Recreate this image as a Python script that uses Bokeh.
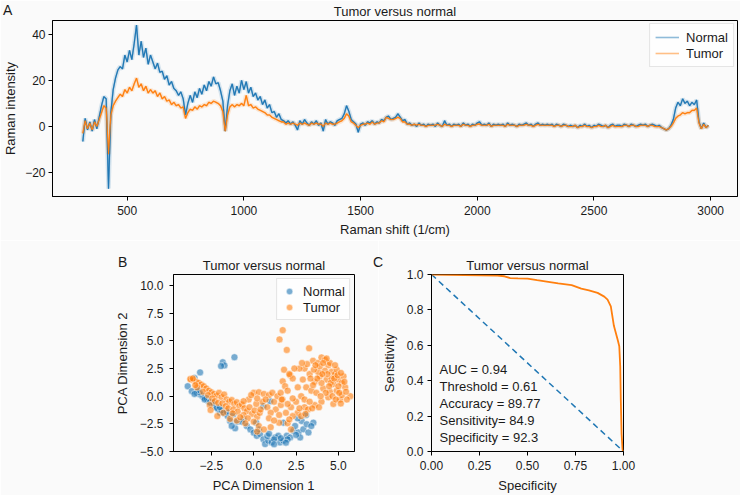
import numpy as np
from bokeh.plotting import figure
from bokeh.layouts import column, row
from bokeh.models import (Label, Legend, LegendItem, FixedTicker, Range1d, Div,
                          CustomJSTickFormatter)
from bokeh.embed import file_html
from bokeh.resources import INLINE

# ---------------- data ----------------
raman_shift = np.arange(310, 3000, 10)  # 310 ... 2990 (1/cm)

normal_mean = [
    -6.5, 3.5, -1.5, 2.0, -2.0, 3.0, -1.0, 4.0, 9.0, 13.0,
    12.0, -27.0, 6.0, 16.0, 21.0, 24.5, 26.0, 25.0, 31.0, 28.0,
    33.0, 29.0, 36.0, 44.0, 31.0, 37.0, 30.0, 34.0, 27.0, 31.0,
    28.0, 25.0, 27.5, 23.5, 24.0, 20.5, 22.0, 18.0, 19.5, 16.5,
    15.5, 13.5, 15.0, 12.0, 5.0, 10.0, 13.5, 10.5, 15.0, 12.5,
    16.5, 14.0, 18.0, 15.5, 19.5, 17.5, 21.5, 18.5, 19.0, 15.5,
    11.0, -2.0, 9.0, 15.5, 18.5, 13.5, 17.5, 14.5, 20.0, 16.0,
    19.5, 14.5, 17.0, 13.0, 14.5, 11.5, 13.0, 9.5, 11.5, 8.0,
    9.5, 6.0, 6.5, 4.0, 5.5, 3.0, 2.5, 1.5, 2.5, 1.0,
    2.0, 0.5, -1.5, 2.5, 1.0, 3.0, 1.5, 0.5, 2.0, 1.0,
    2.5, 0.5, 1.5, -2.0, 3.0, 1.0, 2.0, 1.5, 0.5, 2.5,
    3.0, 3.5, 5.5, 9.0, 6.5, 3.0, 2.0, 1.0, -2.5, 1.0,
    1.5, 0.5, 2.0, 1.5, 2.5, 1.0, 2.0, 1.5, 3.0, 2.5,
    4.0, 4.5, 3.0, 3.5, 4.0, 5.5, 4.0, 2.5, 3.0, 1.0,
    1.5, 0.5, 1.0, 0.0, 1.5, 0.5, 1.0, 0.0, 1.0, 0.5,
    1.0, 0.0, 1.5, 0.5, 0.0, 2.5, 0.5, 1.0, 0.0, 1.0,
    0.5, 1.0, 0.0, 1.5, 0.5, 1.0, 0.0, 1.0, 0.5, 1.5,
    2.0, 0.5, 1.0, 0.5, 1.5, 0.0, 1.0, 0.5, 1.0, 0.5,
    1.0, 0.0, 1.5, 0.5, 1.0, 0.5, 0.0, 1.0, 0.5, 1.0,
    1.5, 0.5, 1.0, 0.0, 1.0, 1.5, 0.5, 1.0, 0.5, 1.0,
    0.5, 1.0, 0.0, 1.0, 0.5, 0.0, 1.0, 0.5, 0.0, 0.5,
    0.0, 0.5, -0.5, 0.5, 0.0, 1.0, 0.0, 0.5, -0.5, 0.5,
    0.0, 1.0, 0.5, 0.0, 0.5, -0.5, 0.5, 1.0, 0.0, 0.5,
    0.5, 0.0, 1.0, 0.5, 0.0, 1.0, 0.5, 0.0, 0.5, 1.0,
    0.5, 1.0, 0.0, 0.5, 1.0, 0.5, 0.0, 0.5, -0.5, -1.0,
    -1.5, -1.0, 0.5, 3.0, 8.0, 10.5, 9.0, 12.0, 10.0, 11.0,
    9.0, 10.5, 9.5, 11.5, 2.0, -1.0, 1.5, -0.5, 0.5,
]

tumor_mean = [
    -3.0, 2.5, -1.0, 1.5, -1.5, 2.0, 0.0, 3.0, 6.0, 9.0,
    8.0, -12.0, 5.0, 9.0, 11.0, 12.5, 14.0, 13.0, 16.0, 14.5,
    17.0, 15.5, 18.5, 21.0, 17.0, 18.5, 15.5, 17.5, 14.5, 16.0,
    14.5, 15.5, 13.0, 14.5, 12.0, 13.0, 11.0, 11.5, 9.5, 10.5,
    9.0, 9.5, 8.0, 8.5, 3.5, 6.0, 7.5, 7.0, 8.5, 7.5,
    9.0, 8.5, 9.5, 9.0, 10.5, 10.0, 11.0, 10.5, 10.0, 9.0,
    6.5, -2.0, 5.0, 8.5, 9.5, 8.5, 9.5, 9.0, 10.0, 9.0,
    13.5, 9.0, 9.5, 8.0, 8.5, 7.5, 7.0, 6.5, 6.0, 5.0,
    5.0, 4.0, 3.5, 3.0, 2.5, 2.0, 2.0, 1.0, 1.5, 1.0,
    1.5, 1.0, 0.5, 1.5, 1.0, 1.5, 1.0, 0.5, 1.5, 1.0,
    1.5, 1.0, 1.0, 0.0, 1.5, 1.0, 1.5, 1.0, 1.0, 1.5,
    2.0, 2.5, 3.5, 5.5, 4.5, 2.0, 1.5, 0.5, -0.5, 0.5,
    1.0, 1.0, 1.5, 1.0, 2.0, 1.0, 1.5, 1.5, 2.5, 2.0,
    4.0, 3.5, 3.0, 3.0, 3.5, 4.0, 3.5, 2.0, 2.0, 1.0,
    1.0, 0.5, 1.0, 0.5, 1.0, 0.5, 0.5, 0.0, 0.5, 0.5,
    0.5, 0.5, 1.0, 0.5, 0.0, 1.0, 0.5, 0.5, 0.0, 0.5,
    0.5, 0.5, 0.0, 1.0, 0.5, 0.5, 0.0, 0.5, 0.5, 1.0,
    1.0, 0.5, 0.5, 0.5, 1.0, 0.0, 0.5, 0.5, 0.5, 0.5,
    0.5, 0.0, 1.0, 0.5, 0.5, 0.5, 0.0, 0.5, 0.5, 0.5,
    1.0, 0.5, 0.5, 0.0, 0.5, 1.0, 0.5, 0.5, 0.5, 0.5,
    0.5, 0.5, 0.0, 0.5, 0.5, 0.0, 0.5, 0.5, 0.0, 0.0,
    0.0, 0.5, -0.5, 0.0, 0.0, 0.5, 0.0, 0.0, -0.5, 0.0,
    0.0, 0.5, 0.0, 0.0, 0.5, -0.5, 0.0, 0.5, 0.0, 0.0,
    0.0, 0.0, 0.5, 0.5, 0.0, 0.5, 0.5, 0.0, 0.0, 0.5,
    0.5, 0.5, 0.0, 0.5, 0.5, 0.0, 0.0, 0.0, -0.5, -1.0,
    -1.5, -1.0, 0.0, 1.5, 3.5, 4.5, 5.0, 6.0, 5.5, 6.0,
    6.0, 7.0, 7.0, 8.0, 1.5, -1.0, 1.0, -0.5, 0.5,
]
assert len(normal_mean) == len(raman_shift) == len(tumor_mean)

pca_normal = [
    (-1.83, 3.07), (-1.73, 2.78), (-1.93, 2.72), (-1.14, 3.52), (-3.17, 2.15), (-3.5, 1.64),
    (-3.9, 0.9), (-3.66, 0.45), (-3.37, 0.3), (-3.17, 0.15), (-3.03, 0.0), (-2.93, -0.15),
    (-2.78, -0.2), (-2.68, -0.45), (-2.48, -0.75), (-2.28, -0.9), (-2.09, -1.2), (-1.99, -1.5),
    (-1.75, -1.55), (-1.54, -1.8), (-1.4, -2.24), (-1.1, -2.9), (-0.99, -2.3), (-0.41, -2.7),
    (-0.2, -3.0), (0.0, -3.3), (0.18, -3.58), (0.37, -3.43), (0.57, -3.9), (0.67, -4.33),
    (0.86, -4.03), (1.06, -4.18), (1.26, -3.73), (1.45, -3.58), (1.55, -4.18), (1.75, -4.03),
    (1.95, -3.58), (2.15, -3.73), (2.34, -3.13), (2.44, -2.69), (2.64, -3.28), (2.74, -3.73),
    (2.93, -2.99), (2.83, -2.24), (3.13, -2.54), (3.23, -3.28), (3.52, -2.39), (3.09, -1.7),
    (0.96, -0.45), (1.75, -2.39), (0.57, -0.9), (0.14, -2.39), (-0.61, -2.09), (-1.2, -1.64),
    (-1.3, -2.69), (-3.2, 0.35), (-2.9, -0.3), (-2.6, -0.55), (-3.3, 0.55), (-2.2, -1.05),
    (-1.9, -1.3), (-1.6, -1.4), (-0.7, -2.3), (0.3, -3.0), (0.8, -3.6), (1.2, -3.9),
    (1.6, -3.8), (2.0, -3.9), (2.5, -3.5), (1.9, -4.2), (1.2, -4.35), (0.9, -3.4),
    (3.4, -2.7), (2.6, -2.0), (-2.4, -0.6), (-2.0, -1.0), (-3.5, 0.2),
]
pca_tumor = [
    (-3.7, 1.5), (-3.55, 1.45), (-3.4, 1.3), (-3.25, 1.2), (-3.1, 1.05), (-2.95, 0.9),
    (-2.8, 0.7), (-2.65, 0.5), (-2.5, 0.35), (-2.35, 0.2), (-2.2, 0.05), (-2.05, 0.3),
    (-1.9, -0.1), (-1.75, 0.15), (-1.6, -0.3), (-1.45, -0.5), (-1.3, -0.35), (-1.15, -0.7),
    (-1.0, -0.55), (-0.85, -0.9), (-0.7, -0.75), (-0.55, -1.1), (-0.4, -1.35), (-0.25, -1.0),
    (-0.1, -1.6), (0.05, -1.3), (0.2, -1.85), (0.35, -1.5), (-3.35, 0.8), (-3.0, 0.4),
    (-2.7, 0.1), (-2.45, -0.2), (-2.3, -0.45), (-2.6, -0.8), (-2.1, -0.6), (-1.85, -0.65),
    (-1.65, -0.9), (-1.5, -1.1), (-1.2, -1.2), (-0.95, -1.4), (-0.6, -1.7), (-0.35, -2.0),
    (-2.55, -1.25), (-2.15, -1.8), (-1.8, -1.5), (-1.4, -2.05), (-1.0, -2.2), (-0.5, -2.45),
    (0.0, -2.3), (0.3, -2.7), (0.6, -3.0), (0.2, -3.2), (1.0, -2.8), (1.5, -2.4),
    (2.0, -2.45), (2.2, -3.0), (-0.8, -1.9), (-1.25, -1.55), (-3.45, 1.0), (-3.75, 1.55),
    (-3.6, 1.6),
    (0.0, 0.3), (0.3, 0.35), (0.6, 0.2), (0.9, 0.1), (1.2, -0.5), (0.5, -0.5),
    (0.8, -1.0), (1.3, -1.2), (1.6, -0.8), (1.9, -1.5), (2.2, -1.0), (2.5, -0.5),
    (2.8, 0.0), (2.6, -1.5), (3.0, -1.0), (1.0, -1.5), (0.4, -1.2), (-0.3, -0.3),
    (-0.6, -0.45), (0.15, -0.7), (0.7, -0.3), (1.1, 0.3), (1.4, 0.0), (1.7, -0.3),
    (2.0, -0.7), (2.3, -1.8), (2.7, -1.1), (1.5, -1.7), (0.9, -2.0), (0.2, -0.2),
    (-0.15, 0.1), (2.1, -2.1), (1.2, -2.2),
    (1.71, 5.97), (1.52, 5.13), (1.95, 4.18), (1.79, 2.39), (1.71, 1.34), (1.85, 0.9),
    (1.59, 0.3), (2.15, 1.9), (1.65, -0.3),
    (3.27, 4.33), (3.0, 2.5), (3.3, 2.0), (3.5, 3.2), (3.8, 3.0), (4.0, 3.5),
    (4.2, 3.3), (4.4, 2.8), (4.6, 2.2), (4.8, 2.0), (5.0, 1.5), (5.2, 1.2),
    (5.4, 0.8), (5.7, 0.0), (5.5, -0.3), (2.7, 2.5), (2.9, 1.5), (3.1, 0.8),
    (3.4, 0.5), (3.6, 1.3), (3.9, 1.8), (4.1, 0.7), (4.3, 1.5), (4.5, 0.4),
    (4.7, 1.1), (4.9, 0.5), (5.1, -0.3), (4.0, -0.5), (3.6, -0.8), (3.2, -1.2),
    (2.8, -1.8), (4.7, -0.7), (5.3, 1.8), (4.9, 2.4), (4.5, 3.0), (3.8, 2.2),
    (3.5, 1.0), (3.0, -0.3), (2.6, 0.8), (2.3, 1.6), (2.1, 2.0), (2.4, 2.5),
    (2.0, 0.5), (2.3, -0.2), (4.2, 2.3), (4.4, -0.1), (5.0, 0.9), (5.2, 0.1),
    (4.6, 1.6), (3.7, 0.3), (3.3, -0.5), (4.0, 1.2), (4.8, 2.8), (3.9, 2.7),
    (4.3, 3.4), (4.1, 3.0), (4.35, 2.0), (4.55, 1.2), (4.75, 1.6), (4.95, 1.9),
    (5.15, 2.1), (5.35, 1.3), (5.45, 0.4), (4.25, 0.3), (3.95, 0.0), (3.75, 1.6),
    (3.55, 2.4), (3.35, 1.6), (3.15, 2.9), (2.85, 3.0), (3.65, 2.8), (4.05, 2.0),
    (4.45, 0.9), (4.65, 0.0), (4.85, -0.3), (5.05, 0.3), (3.85, -1.0), (3.45, -1.1),
    (3.05, -1.6), (5.14, -0.66),
]
normal_pc1 = [p[0] for p in pca_normal]
normal_pc2 = [p[1] for p in pca_normal]
tumor_pc1 = [p[0] for p in pca_tumor]
tumor_pc2 = [p[1] for p in pca_tumor]

roc_specificity = [0.0, 0.344, 0.38, 0.41, 0.45, 0.50, 0.55, 0.60, 0.66, 0.73, 0.78, 0.82,
                   0.865, 0.90, 0.917, 0.934, 0.95, 0.97, 0.978, 0.983, 0.986, 0.99, 0.995, 1.0]
roc_sensitivity = [1.0, 0.994, 0.99, 0.98, 0.978, 0.977, 0.968, 0.96, 0.95, 0.94, 0.92, 0.91,
                   0.896, 0.875, 0.858, 0.82, 0.71, 0.63, 0.595, 0.48, 0.29, 0.10, 0.01, 0.0]
chance_x = [0.0, 1.0]
chance_y = [1.0, 0.0]
roc_stats = ["AUC = 0.94", "Threshold = 0.61", "Accuracy = 89.77",
             "Sensitivity= 84.9", "Specificity = 92.3"]

a_xticks = [500, 1000, 1500, 2000, 2500, 3000]
a_xlabels = ["500", "1000", "1500", "2000", "2500", "3000"]
a_yticks = [-20, 0, 20, 40]
a_ylabels = ["\u221220", "0", "20", "40"]
b_xticks = [-2.5, 0.0, 2.5, 5.0]
b_xlabels = ["\u22122.5", "0.0", "2.5", "5.0"]
b_yticks = [-5.0, -2.5, 0.0, 2.5, 5.0, 7.5, 10.0]
b_ylabels = ["\u22125.0", "\u22122.5", "0.0", "2.5", "5.0", "7.5", "10.0"]
c_xticks = [0.0, 0.25, 0.5, 0.75, 1.0]
c_xlabels = ["0.00", "0.25", "0.50", "0.75", "1.00"]
c_yticks = [0.0, 0.2, 0.4, 0.6, 0.8, 1.0]
c_ylabels = ["0.0", "0.2", "0.4", "0.6", "0.8", "1.0"]

# ---------------- style ----------------
BLUE = "#1f77b4"
ORANGE = "#ff7f0e"
BG = "#fafafa"
TXT = "#1a1a1a"
FONT = "Liberation Sans"
TITLE = "Tumor versus normal"


def tick_fmt(tv, lv):
    return CustomJSTickFormatter(
        args=dict(tv=tv, lv=lv),
        code="for (let k = 0; k < tv.length; k++) {"
             "  if (Math.abs(tv[k] - tick) < 1e-9) { return lv[k]; } }"
             "return '';")


def style(p, xt, xl, yt, yl, xlabel, ylabel, xls, xas, yls, yas):
    p.xgrid.visible = False
    p.ygrid.visible = False
    p.outline_line_color = "black"
    p.outline_line_width = 1
    p.outline_line_alpha = 1
    p.title.text_font = FONT
    p.title.text_font_size = "13px"
    p.title.text_font_style = "normal"
    p.title.text_color = TXT
    p.title.align = "center"
    p.title.standoff = 3
    p.xaxis.ticker = FixedTicker(ticks=xt)
    p.xaxis.formatter = tick_fmt(xt, xl)
    p.yaxis.ticker = FixedTicker(ticks=yt)
    p.yaxis.formatter = tick_fmt(yt, yl)
    p.xaxis.axis_label = xlabel
    p.yaxis.axis_label = ylabel
    for ax in (p.xaxis[0], p.yaxis[0]):
        ax.axis_line_color = "black"
        ax.major_tick_line_color = "black"
        ax.major_tick_out = 4
        ax.major_tick_in = 0
        ax.minor_tick_line_color = None
        ax.major_label_text_font = FONT
        ax.major_label_text_font_size = "12px"
        ax.major_label_text_color = TXT
        ax.axis_label_text_font = FONT
        ax.axis_label_text_font_size = "13px"
        ax.axis_label_text_font_style = "normal"
        ax.axis_label_text_color = TXT
    p.xaxis.major_label_standoff = xls
    p.xaxis.axis_label_standoff = xas
    p.yaxis.major_label_standoff = yls
    p.yaxis.axis_label_standoff = yas


def make_fig(w, h, xr, yr, left, right, top, bottom):
    p = figure(width=w, height=h, x_range=Range1d(*xr), y_range=Range1d(*yr),
               title=TITLE,
               min_border_left=left, min_border_right=right, min_border_top=top,
               min_border_bottom=bottom, output_backend="svg", toolbar_location=None,
               background_fill_color=BG, border_fill_color=BG)
    return p


def letter(t, left, top):
    return Div(text=t, styles={"position": "absolute", "left": f"{left}px",
                               "top": f"{top}px", "font-family": FONT,
                               "font-size": "14px", "line-height": "16px",
                               "color": TXT, "z-index": "5"})


# ---------------- panel A ----------------
figA = make_fig(740, 240, (180, 3115), (-30.4, 46.0), 49, 3, 19, 44)
style(figA, a_xticks, a_xlabels, a_yticks, a_ylabels, "Raman shift (1/cm)", "Raman intensity",
      5, 4, 3, 4)
figA.line(raman_shift, normal_mean, line_color=BLUE, line_width=4.5, line_alpha=0.16)
figA.line(raman_shift, tumor_mean, line_color=ORANGE, line_width=4.5, line_alpha=0.16)
kN = figA.line(raman_shift, normal_mean, line_color=BLUE, line_width=1.6, line_alpha=0.5)
kT = figA.line(raman_shift, tumor_mean, line_color=ORANGE, line_width=1.6, line_alpha=0.5)
figA.line(raman_shift, normal_mean, line_color=BLUE, line_width=1.1)
figA.line(raman_shift, tumor_mean, line_color=ORANGE, line_width=1.1)
legA = Legend(items=[LegendItem(label="Normal", renderers=[kN]),
                     LegendItem(label="Tumor", renderers=[kT])],
              location="top_right")
figA.add_layout(legA)

# ---------------- panel B ----------------
figB = make_fig(378, 255, (-4.74, 5.95), (-5.0, 11.0), 173, 24, 34, 43)
style(figB, b_xticks, b_xlabels, b_yticks, b_ylabels, "PCA Dimension 1", "PCA Dimension 2",
      5, 5, 6, 7)
mN = figB.scatter(normal_pc1, normal_pc2, size=7, fill_color=BLUE, fill_alpha=0.6,
                  line_color="white", line_width=0.6, line_alpha=0.8)
mT = figB.scatter(tumor_pc1, tumor_pc2, size=7, fill_color=ORANGE, fill_alpha=0.6,
                  line_color="white", line_width=0.6, line_alpha=0.8)
legB = Legend(items=[LegendItem(label="Normal", renderers=[mN]),
                     LegendItem(label="Tumor", renderers=[mT])],
              location="top_right")
figB.add_layout(legB)

# ---------------- panel C ----------------
figC = make_fig(362, 255, (0.0, 1.0), (0.0, 1.0), 53, 117, 34, 43)
style(figC, c_xticks, c_xlabels, c_yticks, c_ylabels, "Specificity", "Sensitivity",
      5, 5, 4, 7)
figC.line(chance_x, chance_y, line_color=BLUE, line_width=1.5, line_dash="6 4")
figC.line(roc_specificity, roc_sensitivity, line_color=ORANGE, line_width=1.8)
for i, t in enumerate(roc_stats):
    figC.add_layout(Label(x=0.042, y=0.466 - i * 0.097, text=t, text_align="left",
                          text_baseline="middle", text_font=FONT, text_font_size="13px",
                          text_color=TXT))

for lg in (legA, legB):
    lg.label_text_font = FONT
    lg.label_text_font_size = "13px"
    lg.label_text_color = TXT
    lg.border_line_color = "#cccccc"
    lg.border_line_width = 1
    lg.background_fill_color = "white"
    lg.background_fill_alpha = 0.8
    lg.spacing = 0
    lg.label_height = 16
    lg.glyph_height = 16
legA.margin = 3
legA.padding = 5
legA.glyph_width = 24
legA.label_standoff = 7
legB.margin = 4
legB.padding = 4
legB.glyph_width = 16
legB.label_standoff = 6

layout = column(figA, row(figB, figC),
                letter("A", -2, -3), letter("B", 113, 249), letter("C", 368, 249))
open("out.html", "w").write(file_html(layout, INLINE))
